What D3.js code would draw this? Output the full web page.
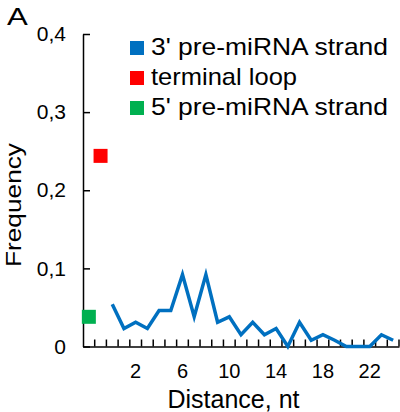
<!DOCTYPE html>
<html>
<head>
<meta charset="utf-8">
<script src="https://cdn.jsdelivr.net/npm/d3@7"></script>
<style>
  body { margin: 0; background: #fff; }
  svg { display: block; font-family: "Liberation Sans", Arial, sans-serif; }
</style>
</head>
<body>
<svg width="400" height="412"></svg>
<script>
// kategori sumbu x: dua posisi awal untuk 5' dan loop, lalu jarak 0..24 nt
const categories = ["5p", "loop", "0", "1", "2", "3", "4", "5", "6", "7", "8", "9", "10", "11",
  "12", "13", "14", "15", "16", "17", "18", "19", "20", "21", "22", "23", "24"];
const strand3 = [0.054, 0.023, 0.031, 0.023, 0.046, 0.046, 0.092, 0.038, 0.092, 0.031, 0.038, 0.015,
  0.031, 0.015, 0.023, 0, 0.031, 0.008, 0.015, 0.008, 0, 0, 0, 0.015, 0.008];
const loopValue = 0.244;
const strand5Value = 0.038;
const xTickLabels = ["2", "6", "10", "14", "18", "22"];
const yTicks = [0, 0.1, 0.2, 0.3, 0.4];
const yTickLabels = ["0", "0,1", "0,2", "0,3", "0,4"];
const legendItems = [
  { label: "3' pre-miRNA strand", color: "#0070C0", len: 237 },
  { label: "terminal loop", color: "#FF0000", len: 146 },
  { label: "5' pre-miRNA strand", color: "#00B050", len: 237 }
];

const svg = d3.select("svg");

const x = d3.scaleBand().domain(categories).range([83, 399]);
const y = d3.scaleLinear().domain([0, 0.4]).range([346.5, 34]);
const bw = x.bandwidth();

// sumbu y dengan tick ke dalam
const yAxis = svg.append("g")
  .attr("transform", "translate(83,0)")
  .call(d3.axisLeft(y).tickValues(yTicks)
    .tickFormat((d, i) => yTickLabels[i])
    .tickSizeInner(-7).tickSizeOuter(0).tickPadding(17));
yAxis.selectAll("text").attr("font-size", 21).attr("fill", "#000")
  .attr("font-family", "Liberation Sans, Arial, sans-serif");
yAxis.selectAll("line, path").attr("stroke", "#000").attr("stroke-width", 1.5);

// sumbu x: label tiap 4 kategori
const xAxis = svg.append("g")
  .attr("transform", `translate(0,${y(0)})`)
  .call(d3.axisBottom(x).tickValues(xTickLabels).tickSize(0).tickPadding(17));
xAxis.selectAll("text").attr("font-size", 20).attr("fill", "#000")
  .attr("font-family", "Liberation Sans, Arial, sans-serif");
xAxis.select("path").attr("stroke", "#000").attr("stroke-width", 1.5);

// tick kecil di antara kategori
svg.append("g").selectAll("line")
  .data(categories)
  .join("line")
  .attr("x1", d => x(d) + bw)
  .attr("x2", d => x(d) + bw)
  .attr("y1", y(0))
  .attr("y2", y(0) - 7)
  .attr("stroke", "#000")
  .attr("stroke-width", 1.5);

// garis 3' strand
const line = d3.line()
  .x((d, i) => x(categories[i + 2]) + bw / 2)
  .y(d => y(d));
svg.append("path")
  .datum(strand3)
  .attr("d", line)
  .attr("fill", "none")
  .attr("stroke", "#0070C0")
  .attr("stroke-width", 3.5)
  .attr("stroke-linejoin", "miter");

// marker kotak untuk loop dan 5'
const markers = [
  { cat: "5p", value: strand5Value, color: "#00B050" },
  { cat: "loop", value: loopValue, color: "#FF0000" }
];
svg.append("g").selectAll("rect")
  .data(markers)
  .join("rect")
  .attr("x", d => x(d.cat) + bw / 2 - 7)
  .attr("y", d => y(d.value) - 7)
  .attr("width", 14)
  .attr("height", 14)
  .attr("fill", d => d.color);

// legenda
const legend = svg.append("g").attr("transform", "translate(130,41)");
const item = legend.selectAll("g")
  .data(legendItems)
  .join("g")
  .attr("transform", (d, i) => `translate(0,${i * 30})`);
item.append("rect").attr("width", 14).attr("height", 14).attr("fill", d => d.color);
item.append("text")
  .attr("x", 21).attr("y", 14)
  .attr("font-size", 24)
  .attr("textLength", d => d.len)
  .attr("lengthAdjust", "spacingAndGlyphs")
  .text(d => d.label);

// judul sumbu
svg.append("text")
  .attr("transform", "translate(21,205) rotate(-90)")
  .attr("text-anchor", "middle")
  .attr("font-size", 22)
  .attr("textLength", 124)
  .attr("lengthAdjust", "spacingAndGlyphs")
  .text("Frequency");

svg.append("text")
  .attr("x", 233.5).attr("y", 408)
  .attr("text-anchor", "middle")
  .attr("font-size", 25)
  .text("Distance, nt");

// label panel, sedikit dilebarkan seperti aslinya
svg.append("text")
  .attr("transform", "translate(7,25) scale(1.3,1)")
  .attr("font-size", 24)
  .text("A");
</script>
</body>
</html>
